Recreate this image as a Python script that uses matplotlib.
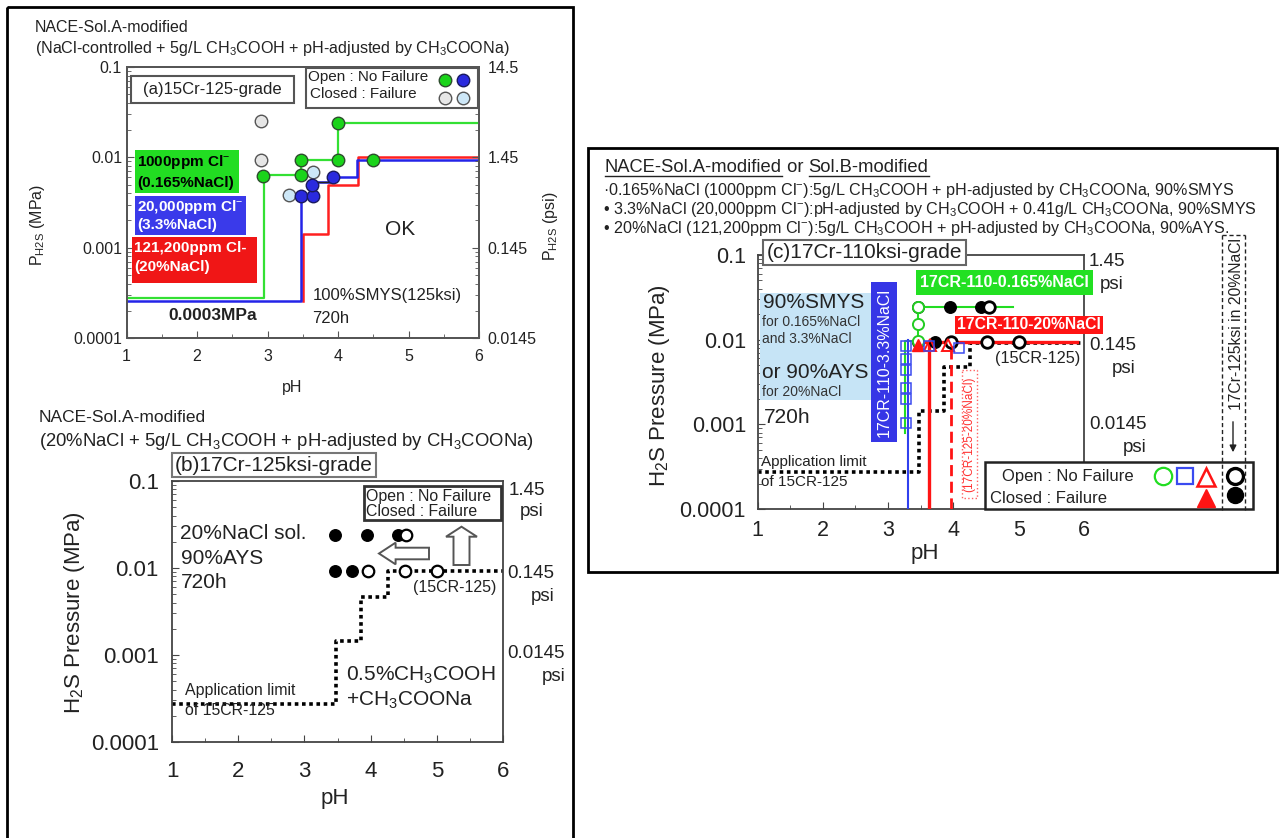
import numpy as np
import matplotlib
matplotlib.use("Agg")
import matplotlib.pyplot as plt
from matplotlib.patches import Rectangle, FancyArrow
from matplotlib.ticker import NullFormatter

plt.rcParams['font.family'] = ['Liberation Sans', 'DejaVu Sans']
plt.rcParams['mathtext.fontset'] = 'custom'
plt.rcParams['mathtext.rm'] = 'Liberation Sans'
plt.rcParams['mathtext.it'] = 'Liberation Sans:italic'
plt.rcParams['mathtext.bf'] = 'Liberation Sans:bold'

# ---------------- data ----------------
ph_ticks = [1, 2, 3, 4, 5, 6]
mpa_ticks = [1e-4, 1e-3, 1e-2, 1e-1]
mpa_labels = ['0.0001', '0.001', '0.01', '0.1']
psi_labels = ['0.0145', '0.145', '1.45', '14.5']

# (a) 15Cr-125-grade, limit lines per NaCl level
a_green_ph = [1, 2.95, 2.95, 3.48, 3.48, 4.0, 4.0, 6]
a_green_p = [2.8e-4, 2.8e-4, 6.3e-3, 6.3e-3, 9.4e-3, 9.4e-3, 2.4e-2, 2.4e-2]
a_blue_ph = [1, 3.47, 3.47, 3.6, 3.6, 3.93, 3.93, 4.27, 4.27, 6]
a_blue_p = [2.6e-4, 2.6e-4, 3.7e-3, 3.7e-3, 5.4e-3, 5.4e-3, 6.1e-3, 6.1e-3, 9.3e-3, 9.3e-3]
a_black_ph = [3.6, 3.6, 3.93]
a_black_p = [3.7e-3, 5.4e-3, 5.4e-3]
a_red_ph = [3.5, 3.5, 3.86, 3.86, 4.28, 4.28, 6]
a_red_p = [2.6e-4, 1.4e-3, 1.4e-3, 4.9e-3, 4.9e-3, 1.0e-2, 1.0e-2]

# (a) test results
a_green_x = [2.93, 3.48, 3.48, 4.0, 4.0, 4.5]
a_green_y = [6.2e-3, 9.4e-3, 6.4e-3, 2.4e-2, 9.4e-3, 9.4e-3]
a_blue_x = [3.47, 3.65, 3.63, 3.93]
a_blue_y = [3.7e-3, 3.7e-3, 5.0e-3, 6.1e-3]
a_gray_x = [2.91, 2.91]
a_gray_y = [2.55e-2, 9.4e-3]
a_lblue_x = [3.31, 3.65]
a_lblue_y = [3.8e-3, 6.8e-3]

# application limit of 15CR-125 (20%NaCl)
lim_ph = [1, 3.47, 3.47, 3.85, 3.85, 4.26, 4.26, 6]
lim_p = [2.7e-4, 2.7e-4, 1.45e-3, 1.45e-3, 4.7e-3, 4.7e-3, 9.2e-3, 9.2e-3]

# (b) 17Cr-125ksi in 20%NaCl
b_fail_x = [3.46, 3.95, 4.42, 3.46, 3.72]
b_fail_y = [0.024, 0.024, 0.024, 0.0093, 0.0093]
b_ok_x = [4.54, 3.96, 4.52, 5.0]
b_ok_y = [0.024, 0.0093, 0.0093, 0.0093]

# (c) 17Cr-110ksi
c_green_ph = [3.26, 3.26, 3.46, 3.46, 4.92]
c_green_p = [7.8e-4, 9.6e-3, 9.6e-3, 2.45e-2, 2.45e-2]
c_green_ok_x = [3.46, 3.46, 3.46]
c_green_ok_y = [0.0245, 0.0153, 0.0097]
c_blue_ph = [3.31, 3.31]
c_blue_p = [1e-4, 0.0100]
c_blue_ok_x = [3.27, 3.27, 3.27, 3.27, 3.27, 3.27, 3.63, 4.09]
c_blue_ok_y = [0.0085, 0.0059, 0.0044, 0.0027, 0.0020, 0.00105, 0.0085, 0.0080]
c_red_ph = [3.62, 3.62, 5.9]
c_red_p = [1e-4, 0.0095, 0.0095]
c_red_stub_ph = [3.42, 3.62]
c_red_stub_p = [0.0095, 0.0095]
c_red125_ph = [3.96, 3.96]
c_red125_p = [1e-4, 0.0085]
c_red_fail_x = [3.46]
c_red_fail_y = [0.0087]
c_red_ok_x = [3.64, 3.92]
c_red_ok_y = [0.0087, 0.0087]

# ---------------- figure ----------------
W, H = 1280, 838
fig = plt.figure(figsize=(12.8, 8.38), dpi=100)

BOX_A = (126.5, 67, 479, 338)
BOX_B = (172, 481, 503, 742)
BOX_C = (757.5, 255, 1084, 509)


def add_ax(box):
    l, t, r, b = box
    return fig.add_axes([l / W, 1 - b / H, (r - l) / W, (b - t) / H])


def lab_xy(box, x, y):
    l, t, r, b = box
    return (x - l) / (r - l), (b - y) / (b - t)


def setup(ax, fs, padx, pady, col='#444444'):
    ax.set_yscale('log')
    ax.set_xlim(1, 6)
    ax.set_ylim(1e-4, 0.1)
    ax.set_xticks(ph_ticks)
    ax.set_xticks(np.arange(1.5, 6, 1.0), minor=True)
    ax.set_yticks(mpa_ticks)
    ax.set_yticklabels(mpa_labels)
    ax.yaxis.set_minor_formatter(NullFormatter())
    ax.tick_params(which='both', direction='in', color=col, labelcolor='#222222')
    ax.tick_params(axis='x', labelsize=fs, pad=padx)
    ax.tick_params(axis='y', labelsize=fs, pad=pady)
    ax.tick_params(which='major', length=5)
    ax.tick_params(which='minor', length=3)
    for s in ax.spines.values():
        s.set_color(col)
        s.set_linewidth(1.3)


def place_labels(ax, box, xl, yl, fs, xpos, ypos):
    ax.set_xlabel(xl, fontsize=fs, color='#222222')
    ax.set_ylabel(yl, fontsize=fs, color='#222222')
    ax.xaxis.label.set_va('center')
    ax.yaxis.label.set_va('center')
    ax.xaxis.set_label_coords(*lab_xy(box, *xpos))
    ax.yaxis.set_label_coords(*lab_xy(box, *ypos))


# ---- panel (a)
axa = add_ax(BOX_A)
setup(axa, 11.5, 8, 3.2, col='#555555')
place_labels(axa, BOX_A, 'pH', 'P$_{\\rm H2S}$ (MPa)', 11.5, (292, 387), (37, 225))
axa.plot(a_red_ph, a_red_p, color='#ff2020', lw=1.8, zorder=2)
axa.plot(a_blue_ph, a_blue_p, color='#2424e8', lw=1.8, zorder=3)
axa.plot(a_black_ph, a_black_p, color='#222222', lw=1.0, zorder=3)
axa.plot(a_green_ph, a_green_p, color='#33e033', lw=1.6, zorder=3)
mk = dict(linestyle='none', marker='o', markersize=9, markeredgewidth=1.0, zorder=5)
axa.plot(a_gray_x, a_gray_y, markerfacecolor='#e6e6e6', markeredgecolor='#555555', **mk)
axa.plot(a_lblue_x, a_lblue_y, markerfacecolor='#cde7f7', markeredgecolor='#555555', **mk)
axa.plot(a_green_x, a_green_y, markerfacecolor='#1ad41a', markeredgecolor='#2d4d2d', **mk)
axa.plot(a_blue_x, a_blue_y, markerfacecolor='#2a2ade', markeredgecolor='#1a1a60', **mk)

axr = axa.twinx()
axr.set_yscale('log')
axr.set_ylim(1e-4, 0.1)
axr.set_yticks(mpa_ticks)
axr.set_yticklabels(psi_labels)
axr.yaxis.set_minor_formatter(NullFormatter())
axr.tick_params(which='both', direction='in', color='#555555', labelcolor='#222222',
                labelsize=11.5, pad=6)
axr.tick_params(which='major', length=5)
axr.tick_params(which='minor', length=3)
for s in axr.spines.values():
    s.set_color('#555555')
    s.set_linewidth(1.3)
axr.set_ylabel('P$_{\\rm H2S}$ (psi)', fontsize=11.5, color='#222222')
axr.yaxis.label.set_va('center')
axr.yaxis.set_label_coords(*lab_xy(BOX_A, 551, 226))

# ---- panel (b)
axb = add_ax(BOX_B)
setup(axb, 16, 13.5, 9.4)
place_labels(axb, BOX_B, 'pH', 'H$_2$S Pressure (MPa)', 16, (335, 798), (74, 613))
dot = (0, (1, 1))
axb.plot(lim_ph, lim_p, color='black', lw=2.6, linestyle=dot, zorder=2)
axb.plot(b_fail_x, b_fail_y, linestyle='none', marker='o', markersize=8.3,
         markerfacecolor='black', markeredgecolor='black', zorder=5)
axb.plot(b_ok_x, b_ok_y, linestyle='none', marker='o', markersize=8.3,
         markerfacecolor='white', markeredgecolor='black', markeredgewidth=1.6, zorder=5)

# ---- panel (c)
axc = add_ax(BOX_C)
setup(axc, 15.5, 7.9, 8.3)
place_labels(axc, BOX_C, 'pH', 'H$_2$S Pressure (MPa)', 16, (924.5, 553), (660, 386))
axc.plot(lim_ph, lim_p, color='black', lw=2.6, linestyle=dot, zorder=2)
axc.plot(c_green_ph, c_green_p, color='#22dd22', lw=1.5, zorder=3)
axc.plot(c_blue_ph, c_blue_p, color='#3040ee', lw=1.5, zorder=3)
axc.plot(c_red_ph, c_red_p, color='#ff1414', lw=2.4, zorder=3)
axc.plot(c_red_stub_ph, c_red_stub_p, color='#ff1414', lw=2.4, zorder=3)
axc.plot(c_red125_ph, c_red125_p, color='#ff1414', lw=2.0, linestyle=(0, (4, 2)), zorder=3)
axc.plot(b_fail_x, b_fail_y, linestyle='none', marker='o', markersize=8.3,
         markerfacecolor='black', markeredgecolor='black', zorder=5)
axc.plot(b_ok_x, b_ok_y, linestyle='none', marker='o', markersize=8.3,
         markerfacecolor='white', markeredgecolor='black', markeredgewidth=2.0, zorder=5)
axc.plot(c_green_ok_x, c_green_ok_y, linestyle='none', marker='o', markersize=8,
         markerfacecolor='white', markeredgecolor='#22cc22', markeredgewidth=1.4, zorder=6)
axc.plot(c_red_fail_x, c_red_fail_y, linestyle='none', marker='^', markersize=8,
         markerfacecolor='#ff1414', markeredgecolor='#ff1414', zorder=7)
axc.plot(c_red_ok_x, c_red_ok_y, linestyle='none', marker='^', markersize=8,
         markerfacecolor='none', markeredgecolor='#ff1414', markeredgewidth=1.4, zorder=7)
axc.plot(c_blue_ok_x, c_blue_ok_y, linestyle='none', marker='s', markersize=7.5,
         markerfacecolor='none', markeredgecolor='#3a4af0', markeredgewidth=1.1, zorder=8)

# ---------------- overlay (pixel coordinates) ----------------
ov = fig.add_axes([0, 0, 1, 1], zorder=10)
ov.set_xlim(0, W)
ov.set_ylim(H, 0)
ov.axis('off')
ov.patch.set_visible(False)


def box(x0, y0, x1, y1, **kw):
    ov.add_patch(Rectangle((x0, y0), x1 - x0, y1 - y0, clip_on=False, **kw))


def txt(x, y, s, fs, ha='left', va='center', **kw):
    return ov.text(x, y, s, fontsize=fs, ha=ha, va=va, **kw)


# outer frames
box(7, 7, 573, 850, fill=False, ec='black', lw=2)
box(588, 148, 1277, 572, fill=False, ec='black', lw=2)

# (a) annotations
txt(35, 27, 'NACE-Sol.A-modified', 11.5, color='#222222')
txt(35, 48, '(NaCl-controlled + 5g/L CH$_3$COOH + pH-adjusted by CH$_3$COONa)', 11.6,
    color='#222222')
box(131, 76, 294, 103, fc='white', ec='#555555', lw=1.5)
txt(212.5, 89.5, '(a)15Cr-125-grade', 12, ha='center', color='#222222')
box(306, 68, 478, 108, fc='white', ec='#555555', lw=1.5)
txt(308, 77.5, 'Open : No Failure', 11, color='#222222')
txt(310, 94.5, 'Closed : Failure', 11, color='#222222')
lm = dict(marker='o', markersize=9, markeredgewidth=1.0, linestyle='none')
ov.plot([445], [80], markerfacecolor='#1ad41a', markeredgecolor='#2d4d2d', **lm)
ov.plot([463], [80], markerfacecolor='#2a2ade', markeredgecolor='#1a1a60', **lm)
ov.plot([445], [98], markerfacecolor='#e6e6e6', markeredgecolor='#555555', **lm)
ov.plot([463], [98], markerfacecolor='#cde7f7', markeredgecolor='#555555', **lm)

box(135, 150, 239, 193, fc='#22dd22', ec='none')
txt(137, 162, '1000ppm Cl$^{-}$', 11, color='black', fontweight='bold')
txt(137, 183, '(0.165%NaCl)', 11, color='black', fontweight='bold')
box(135, 196, 246, 235, fc='#3a3aea', ec='none')
txt(137, 207, '20,000ppm Cl$^{-}$', 11, color='white', fontweight='bold')
txt(137, 225, '(3.3%NaCl)', 11, color='white', fontweight='bold')
box(132, 237, 257, 283, fc='#f01616', ec='none')
txt(134, 248, '121,200ppm Cl-', 11, color='white', fontweight='bold')
txt(134, 267, '(20%NaCl)', 11, color='white', fontweight='bold')

txt(400, 229, 'OK', 15, ha='center', color='#222222')
txt(312.5, 295, '100%SMYS(125ksi)', 12, color='#222222')
txt(312.5, 318, '720h', 12, color='#222222')
txt(168, 315, '0.0003MPa', 12.5, color='#222222', fontweight='bold')

# (b) annotations
txt(39, 417, 'NACE-Sol.A-modified', 12.5, color='#222222')
txt(39, 441.5, '(20%NaCl + 5g/L CH$_3$COOH + pH-adjusted by CH$_3$COONa)', 13.3,
    color='#222222')
box(172, 453, 375.5, 477, fc='white', ec='#777777', lw=1.5)
txt(274, 465, '(b)17Cr-125ksi-grade', 15, ha='center', color='#222222')
box(363.5, 486, 501, 520, fc='white', ec='#333333', lw=2)
txt(366.5, 496, 'Open : No Failure', 11.4, color='#222222')
txt(366.5, 511, 'Closed : Failure', 11.4, color='#222222')
txt(180.5, 533.5, '20%NaCl sol.', 15, color='#222222')
txt(180.5, 558, '90%AYS', 15, color='#222222')
txt(180.5, 582, '720h', 15, color='#222222')
ov.add_patch(FancyArrow(429, 553.5, -50, 0, width=11.6, head_width=21.7, head_length=16.6,
                        length_includes_head=True, fc='white', ec='#555555', lw=1.4))
ov.add_patch(FancyArrow(461.5, 565, 0, -38.3, width=16, head_width=31, head_length=10,
                        length_includes_head=True, fc='white', ec='#555555', lw=1.4))
txt(413.5, 587, '(15CR-125)', 11.5, color='#222222')
txt(185, 690, 'Application limit', 11.4, color='#222222')
txt(185, 710, 'of 15CR-125', 11.4, color='#222222')
txt(346, 675, '0.5%CH$_3$COOH', 15, color='#222222')
txt(346, 700, '+CH$_3$COONa', 15, color='#222222')
for x, y, s in [(508.5, 490, '1.45'), (520, 511, 'psi'), (507, 573.5, '0.145'),
                (531, 596, 'psi'), (507.5, 653.5, '0.0145'), (542, 676, 'psi')]:
    txt(x, y, s, 13.5, color='#222222')

# (c) annotations
renderer = fig.canvas.get_renderer()
inv = ov.transData.inverted()
xcur = 605
for part, ul in [('NACE-Sol.A-modified', True), (' or ', False), ('Sol.B-modified', True)]:
    t = txt(xcur, 167, part, 13.2, color='#222222')
    bb = t.get_window_extent(renderer)
    xend = inv.transform((bb.x1, bb.y0))[0]
    if ul:
        ov.plot([xcur, xend], [176, 176], color='#222222', lw=1.0)
    xcur = xend
txt(603, 190, '\u00b70.165%NaCl (1000ppm Cl$^{-}$):5g/L CH$_3$COOH + pH-adjusted by '
    'CH$_3$COONa, 90%SMYS', 11.6, color='#222222')
txt(603, 209, '\u2022 3.3%NaCl (20,000ppm Cl$^{-}$):pH-adjusted by CH$_3$COOH + 0.41g/L '
    'CH$_3$COONa, 90%SMYS', 11.6, color='#222222')
txt(603, 228, '\u2022 20%NaCl (121,200ppm Cl$^{-}$):5g/L CH$_3$COOH + pH-adjusted by '
    'CH$_3$COONa, 90%AYS.', 11.6, color='#222222')

box(763, 240, 966, 265, fc='white', ec='#666666', lw=1.5)
txt(864.5, 252.5, '(c)17Cr-110ksi-grade', 15, ha='center', color='#222222')
box(759.5, 293, 872, 400, fc='#c6e4f6', ec='none')
txt(762.5, 302, '90%SMYS', 15, color='#222222')
txt(762.5, 322, 'for 0.165%NaCl', 10, color='#333333')
txt(762.5, 338.5, 'and 3.3%NaCl', 10, color='#333333')
txt(762.5, 372, 'or 90%AYS', 15, color='#222222')
txt(762.5, 392, 'for 20%NaCl', 10, color='#333333')
txt(764, 417, '720h', 15, color='#222222')
box(871, 282, 897, 442, fc='#3636e6', ec='none')
txt(884, 362, '17CR-110-3.3%NaCl', 11.5, ha='center', rotation=90, color='white')
box(916, 270, 1093, 295, fc='#22e022', ec='none')
txt(1004.5, 282.5, '17CR-110-0.165%NaCl', 11.5, ha='center', color='white', fontweight='bold')
box(954.5, 315.5, 1103, 334, fc='#ff1414', ec='none')
txt(1028.7, 324.7, '17CR-110-20%NaCl', 11.3, ha='center', color='white', fontweight='bold')
txt(995, 358.5, '(15CR-125)', 11.7, color='#222222')
txt(761, 462, 'Application limit', 11, color='#222222')
txt(761, 482, 'of 15CR-125', 11, color='#222222')
box(962, 370, 977.3, 498.3, fill=False, ec='#ff6060', lw=1, ls=':')
txt(969.5, 434, '(17CR-125-20%NaCl)', 8.5, ha='center', rotation=90, color='#ff3030')
for x, y, s in [(1089, 261, '1.45'), (1100, 284.5, 'psi'), (1089, 345, '0.145'),
                (1111.5, 368, 'psi'), (1089, 424, '0.0145'), (1123, 447, 'psi')]:
    txt(x, y, s, 13.5, color='#222222')

box(985, 462, 1253, 508.5, fc='white', ec='#222222', lw=1.8)
txt(1002, 476, 'Open : No Failure', 12, color='#222222')
txt(990, 498, 'Closed : Failure', 12, color='#222222')
ov.plot([1163], [476], marker='o', markersize=12.5, markerfacecolor='none',
        markeredgecolor='#22dd22', markeredgewidth=1.6)
ov.plot([1185], [476], marker='s', markersize=11.5, markerfacecolor='none',
        markeredgecolor='#3a4af0', markeredgewidth=1.6)
ov.plot([1206], [477], marker='^', markersize=12.5, markerfacecolor='none',
        markeredgecolor='#ff1414', markeredgewidth=1.8)
ov.plot([1206], [498], marker='^', markersize=12.5, markerfacecolor='#ff1414',
        markeredgecolor='#ff1414')
ov.plot([1235], [476], marker='o', markersize=11.5, markerfacecolor='white',
        markeredgecolor='black', markeredgewidth=2.4)
ov.plot([1235], [495], marker='o', markersize=11.5, markerfacecolor='black',
        markeredgecolor='black')
dash = (0, (3, 2))
ov.plot([1221.7, 1245], [235, 235], color='#222222', lw=1, ls=dash)
ov.plot([1221.7, 1221.7], [235, 510], color='#222222', lw=1, ls=dash)
ov.plot([1245, 1245], [235, 512], color='#222222', lw=1, ls=dash)
txt(1236.5, 324, '17Cr-125ksi in 20%NaCl', 11.3, ha='center', rotation=90, color='#222222')
ov.annotate('', xy=(1233, 455), xytext=(1233, 419),
            arrowprops=dict(arrowstyle='-|>', color='#222222', lw=1.0, mutation_scale=10))

fig.savefig('out.png', dpi=100, facecolor='white')
